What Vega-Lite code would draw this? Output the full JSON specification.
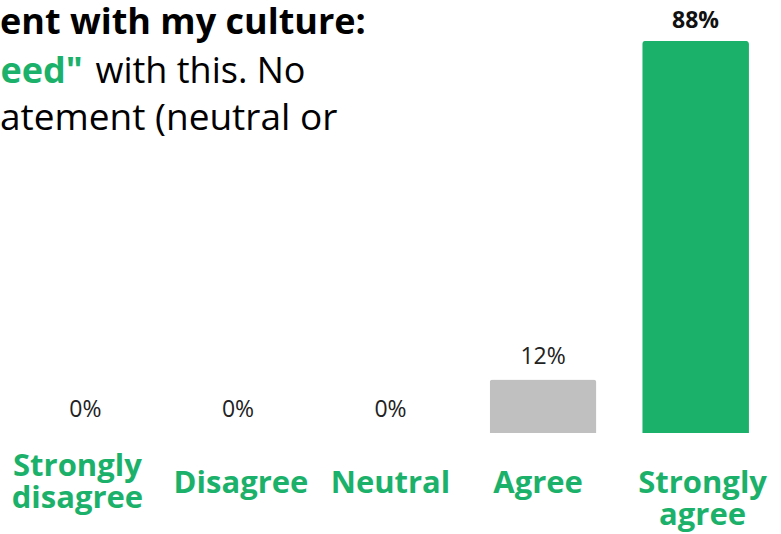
{
  "$schema": "https://vega.github.io/schema/vega-lite/v6.json",
  "width": 781,
  "height": 433,
  "autosize": {"type": "none"},
  "padding": {"left": 0, "top": 0, "right": 0, "bottom": 101},
  "background": "white",
  "title": {
    "text": "ent with my culture:",
    "subtitle": "atement (neutral or",
    "anchor": "start",
    "frame": "group",
    "orient": "top",
    "offset": -138,
    "font": "Open Sans",
    "fontSize": 36,
    "fontWeight": "bold",
    "color": "#000000",
    "subtitleFont": "Open Sans",
    "subtitleFontSize": 37,
    "subtitleFontWeight": "normal",
    "subtitleColor": "#000000",
    "subtitlePadding": 59
  },
  "config": {"view": {"stroke": null}},
  "data": {
    "values": [
      {"response": "Strongly disagree", "pct": 0},
      {"response": "Disagree", "pct": 0},
      {"response": "Neutral", "pct": 0},
      {"response": "Agree", "pct": 0.12},
      {"response": "Strongly agree", "pct": 0.88}
    ]
  },
  "encoding": {
    "x": {
      "field": "response",
      "type": "nominal",
      "sort": null,
      "scale": {"paddingInner": 0.3, "paddingOuter": 0.21},
      "axis": {
        "domain": false,
        "ticks": false,
        "grid": false,
        "labelAngle": 0,
        "labelExpr": "split(datum.label, ' ')",
        "labelFont": "Open Sans",
        "labelFontSize": 31,
        "labelFontWeight": "bold",
        "labelColor": "#1BB16A",
        "labelBaseline": "middle",
        "labelLineHeight": 32,
        "labelPadding": {"condition": {"test": "datum.value === 'Strongly disagree'", "value": 33}, "value": 50},
        "labelOffset": {
          "condition": [
            {"test": "datum.value === 'Strongly disagree'", "value": -8},
            {"test": "datum.value === 'Strongly agree'", "value": 7},
            {"test": "datum.value === 'Agree'", "value": -5},
            {"test": "datum.value === 'Disagree'", "value": 3}
          ],
          "value": 0
        },
        "labelLimit": 300,
        "title": "with this. No",
        "titleX": 95,
        "titleY": -351,
        "titleAlign": "left",
        "titleBaseline": "alphabetic",
        "titleFont": "Open Sans",
        "titleFontSize": 36,
        "titleFontWeight": "normal",
        "titleColor": "#000000"
      }
    },
    "y": {
      "field": "pct",
      "type": "quantitative",
      "scale": {"domain": [0, 0.972]},
      "axis": {
        "domain": false,
        "ticks": false,
        "grid": false,
        "labels": false,
        "title": "eed\"",
        "titleAngle": 0,
        "titleX": 0,
        "titleY": 82,
        "titleAlign": "left",
        "titleBaseline": "alphabetic",
        "titleFont": "Open Sans",
        "titleFontSize": 36,
        "titleFontWeight": "bold",
        "titleColor": "#1BB16A"
      }
    }
  },
  "layer": [
    {
      "mark": {"type": "bar", "cornerRadiusTopLeft": 3, "cornerRadiusTopRight": 3},
      "encoding": {
        "color": {
          "field": "response",
          "type": "nominal",
          "scale": {
            "domain": ["Strongly disagree", "Disagree", "Neutral", "Agree", "Strongly agree"],
            "range": ["#1BB16A", "#1BB16A", "#1BB16A", "#C0C0C0", "#1BB16A"]
          },
          "legend": null
        }
      }
    },
    {
      "transform": [{"filter": "datum.pct < 0.5"}],
      "mark": {"type": "text", "baseline": "alphabetic", "align": "center", "dy": -16, "font": "Open Sans", "fontSize": 23, "color": "#222222"},
      "encoding": {"text": {"field": "pct", "type": "quantitative", "format": ".0%"}}
    },
    {
      "transform": [{"filter": "datum.pct >= 0.5"}],
      "mark": {"type": "text", "baseline": "alphabetic", "align": "center", "dy": -13, "font": "Open Sans", "fontSize": 23, "fontWeight": "bold", "color": "#111111"},
      "encoding": {"text": {"field": "pct", "type": "quantitative", "format": ".0%"}}
    }
  ]
}
